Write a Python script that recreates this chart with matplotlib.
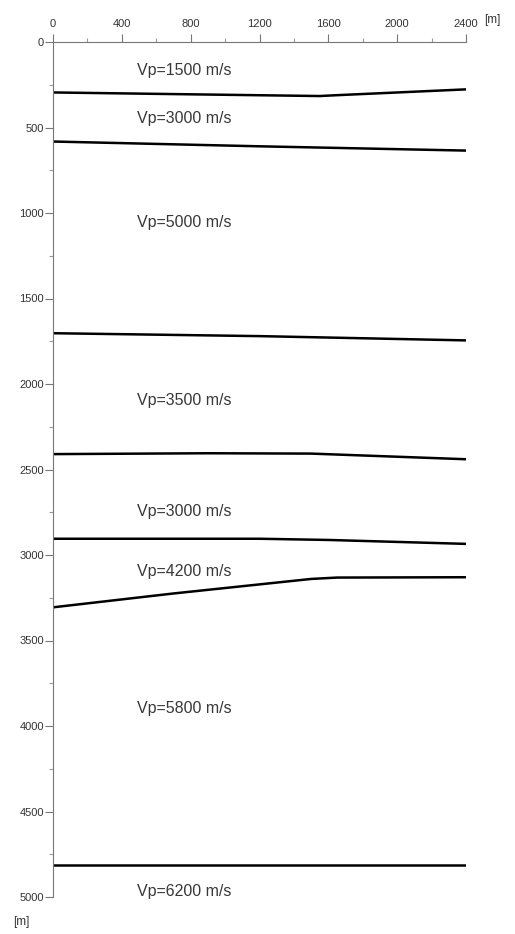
import matplotlib
matplotlib.use("Agg")
import matplotlib.pyplot as plt
from matplotlib.ticker import MultipleLocator

plt.rcParams['font.family'] = ['Liberation Sans', 'DejaVu Sans']

# interfaces (distance [m], depth [m])
x1 = [0, 800, 1550, 1650, 2400]
z1 = [295, 306, 316, 311, 277]
x2 = [0, 1200, 2400]
z2 = [582, 610, 635]
x3 = [0, 1200, 2400]
z3 = [1703, 1720, 1745]
x4 = [0, 900, 1500, 2400]
z4 = [2410, 2405, 2407, 2440]
x5 = [0, 1200, 1600, 2400]
z5 = [2905, 2905, 2912, 2935]
x6 = [0, 700, 1500, 1650, 2400]
z6 = [3306, 3225, 3140, 3132, 3130]
x7 = [0, 2400]
z7 = [4812, 4812]

capas_x = [x1, x2, x3, x4, x5, x6, x7]
capas_z = [z1, z2, z3, z4, z5, z6, z7]

# velocity labels
vel = [1500, 3000, 5000, 3500, 3000, 4200, 5800, 6200]
vel_z = [168, 446, 1053, 2094, 2747, 3097, 3895, 4966]
vel_x = 490

fig = plt.figure(figsize=(5.15, 9.34), dpi=100)
ax = fig.add_axes([53/515, 1-897/934, 413/515, 855/934])

for xs, zs in zip(capas_x, capas_z):
    ax.plot(xs, zs, color='black', lw=1.8, solid_capstyle='butt')

for v, z in zip(vel, vel_z):
    ax.text(vel_x, z, "Vp=%d m/s" % v, fontsize=11.5, color='#383838',
            ha='left', va='center')

ax.set_xlim(0, 2400)
ax.set_ylim(5000, 0)
ax.xaxis.tick_top()
ax.xaxis.set_major_locator(MultipleLocator(400))
ax.xaxis.set_minor_locator(MultipleLocator(200))
ax.yaxis.set_major_locator(MultipleLocator(500))
ax.yaxis.set_minor_locator(MultipleLocator(250))

for s in ['right', 'bottom']:
    ax.spines[s].set_visible(False)
for s in ['left', 'top']:
    ax.spines[s].set_color('#777777')
    ax.spines[s].set_linewidth(0.8)

ax.tick_params(which='major', length=5.5, width=0.8, color='#777777',
               labelsize=8, labelcolor='#333333')
ax.tick_params(axis='x', which='major', pad=4)
ax.tick_params(axis='y', which='major', pad=1)
ax.tick_params(which='minor', length=3, width=0.8, color='#999999')

fig.text(492/515, 1-20/934, "[m]", fontsize=8.5, color='#333333',
         ha='center', va='center')
fig.text(21/515, 1-922/934, "[m]", fontsize=8.5, color='#333333',
         ha='center', va='center')

fig.savefig("out.png", dpi=100)
